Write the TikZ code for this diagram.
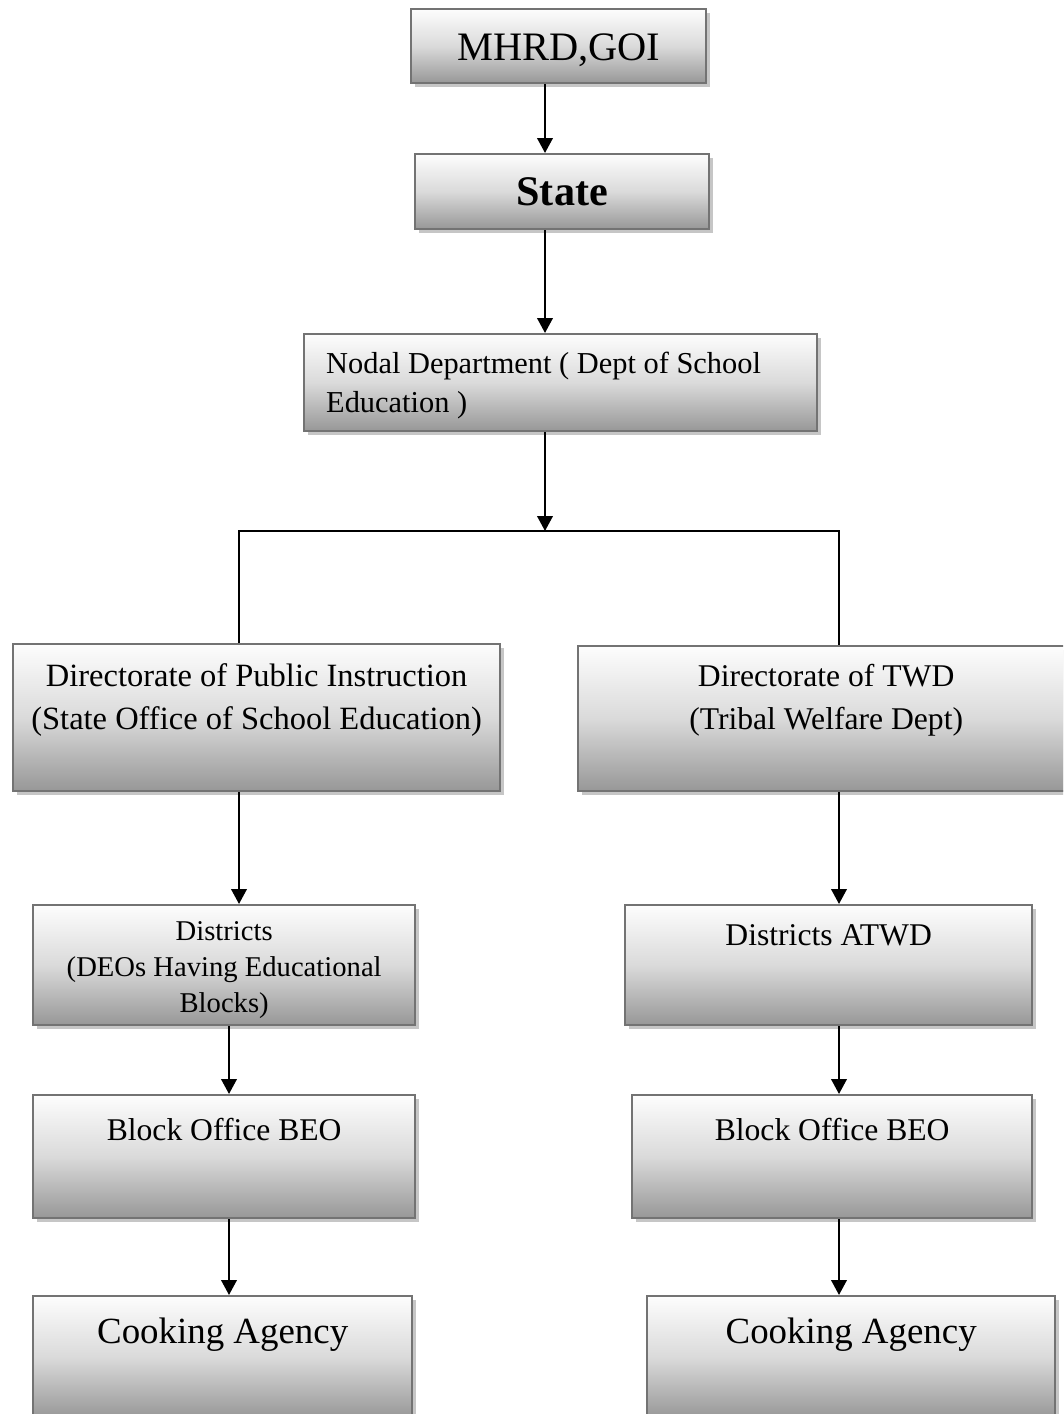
\documentclass[tikz,border=0pt]{standalone}
\usepackage{fontspec}
\setmainfont{Liberation Serif}
\usetikzlibrary{arrows.meta,shadows}
\newlength{\px}
\setlength{\px}{0.2mm}
\newcommand{\inbox}[4]{\parbox[c][#2\px][t]{#1\px}{\vspace*{#3\px}#4}}
\definecolor{boxline}{HTML}{737373}
\definecolor{boxtop}{HTML}{FDFDFD}
\definecolor{boxmid}{HTML}{DADADA}
\definecolor{boxbottom}{HTML}{979797}
\definecolor{boxshadow}{HTML}{C6C6C6}
\tikzset{
  orgbox/.style={draw=boxline, line width=1.4pt, inner sep=0pt, anchor=north west,
    top color=boxtop, bottom color=boxbottom, middle color=boxmid,
    drop shadow={shadow xshift=0.08cm, shadow yshift=-0.08cm, fill=boxshadow, opacity=1}},
}
\begin{document}
\begin{tikzpicture}[x=0.02cm, y=-0.02cm, >={Triangle[width=0.31cm,length=0.3cm]}, line width=1.3pt]
  \useasboundingbox (0,0) rectangle (1063,1414);
  \clip (0,0) rectangle (1063,1414);
  \coordinate (mid) at (545,0);
  \coordinate (lcol) at (239,0);
  \coordinate (lcolb) at (229,0);
  \coordinate (rcol) at (839,0);
  \coordinate (split) at (545,531);

  \node[orgbox, font=\fontsize{23}{27}\selectfont] (mhrd) at (410,8)
    {\inbox{295}{74}{25}{\centering MHRD,GOI}};
  \node[orgbox, font=\fontsize{24}{28}\selectfont\bfseries] (state) at (414,153)
    {\inbox{294}{75}{23.5}{\centering State}};
  \node[orgbox, font=\fontsize{17.3}{22}\selectfont] (nodal) at (303,333)
    {\inbox{513}{97}{18}{\raggedright\leftskip=22\px Nodal Department ( Dept of School\\Education )}};
  \node[orgbox, font=\fontsize{18.5}{24.4}\selectfont] (dpi) at (12,643)
    {\inbox{487}{147}{19.5}{\centering Directorate of Public Instruction\\(State Office of School Education)}};
  \node[orgbox, font=\fontsize{18}{24.4}\selectfont] (twd) at (577,645)
    {\inbox{496}{145}{18}{\centering Directorate of TWD\\(Tribal Welfare Dept)}};
  \node[orgbox, font=\fontsize{16.3}{20.4}\selectfont] (distl) at (32,904)
    {\inbox{382}{120}{16.5}{\centering Districts\\(DEOs Having Educational\\Blocks)}};
  \node[orgbox, font=\fontsize{18}{22}\selectfont] (distr) at (624,904)
    {\inbox{407}{120}{19}{\centering Districts ATWD}};
  \node[orgbox, font=\fontsize{18}{22}\selectfont] (blockl) at (32,1094)
    {\inbox{382}{123}{23}{\centering Block Office BEO}};
  \node[orgbox, font=\fontsize{18}{22}\selectfont] (blockr) at (631,1094)
    {\inbox{400}{123}{23}{\centering Block Office BEO}};
  \node[orgbox, font=\fontsize{21}{25}\selectfont] (cookl) at (32,1295)
    {\inbox{379}{122}{22}{\centering Cooking Agency}};
  \node[orgbox, font=\fontsize{21}{25}\selectfont] (cookr) at (646,1295)
    {\inbox{408}{122}{22}{\centering Cooking Agency}};

  \draw[->] (mhrd.south -| mid) -- (state.north -| mid);
  \draw[->] (state.south -| mid) -- (nodal.north -| mid);
  \draw[->] (nodal.south -| mid) -- (split);
  \draw (dpi.north -| lcol) |- (split) -| (twd.north -| rcol);
  \draw[->] (dpi.south -| lcol) -- (distl.north -| lcol);
  \draw[->] (distl.south -| lcolb) -- (blockl.north -| lcolb);
  \draw[->] (blockl.south -| lcolb) -- (cookl.north -| lcolb);
  \draw[->] (twd.south -| rcol) -- (distr.north -| rcol);
  \draw[->] (distr.south -| rcol) -- (blockr.north -| rcol);
  \draw[->] (blockr.south -| rcol) -- (cookr.north -| rcol);
\end{tikzpicture}
\end{document}
